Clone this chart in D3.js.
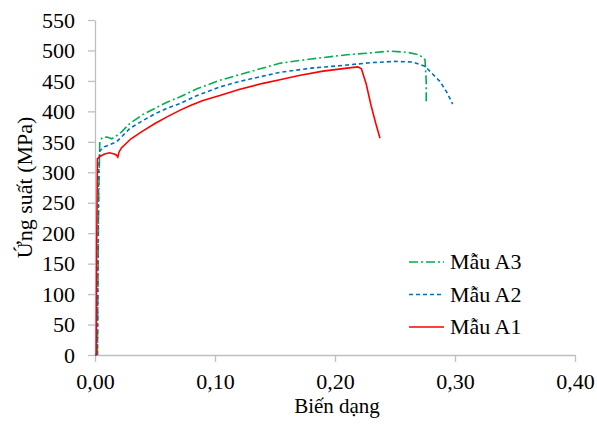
<!DOCTYPE html>
<html>
<head>
<meta charset="utf-8">
<script src="https://cdn.jsdelivr.net/npm/d3@7"></script>
<style>
  body { margin: 0; background: #fff; }
  svg, svg text { font-family: "Liberation Serif", "Times New Roman", serif; fill: #000; }
</style>
</head>
<body>
<div id="chart"></div>
<script>
// strain / stress points
const seriesA1 = [[0,0],[0.001,0],[0.0015,200],[0.002,322],[0.004,326],[0.008,330],[0.012,332],[0.016,330],[0.018,328],[0.019,325],[0.02,333],[0.022,340],[0.03,355],[0.04,368],[0.05,380],[0.06,391],[0.071,402],[0.08,410],[0.09,418],[0.104,426],[0.12,436],[0.14,446],[0.154,452],[0.17,459],[0.19,466],[0.21,471],[0.219,473],[0.222,470],[0.226,445],[0.23,410],[0.234,380],[0.2375,356]];
const seriesA2 = [[0.002,0],[0.003,300],[0.004,335],[0.008,342],[0.012,345],[0.018,350],[0.022,358],[0.029,372],[0.04,385],[0.05,396],[0.06,405],[0.071,413],[0.085,426],[0.104,440],[0.12,449],[0.154,464],[0.18,471],[0.21,476],[0.23,480],[0.25,482],[0.265,481],[0.275,474],[0.2875,449],[0.293,432],[0.298,412]];
const seriesA3 = [[0.002,0],[0.003,250],[0.004,350],[0.006,357],[0.01,358],[0.014,355],[0.018,360],[0.022,366],[0.029,380],[0.04,395],[0.05,405],[0.06,415],[0.071,424],[0.085,437],[0.104,451],[0.12,460],[0.154,479],[0.18,486],[0.21,493],[0.23,496],[0.246,499],[0.26,497],[0.27,493],[0.275,485],[0.276,450],[0.276,416]];
const seriesNames = ["Mẫu A3", "Mẫu A2", "Mẫu A1"];
const xTicks = [0, 0.1, 0.2, 0.3, 0.4];
const yTicks = [0,50,100,150,200,250,300,350,400,450,500,550];

const width = 597, height = 424;
const margin = {left: 95, right: 22, top: 20, bottom: 69};
const fontSize = "22px";

const svg = d3.select("#chart").append("svg")
    .attr("width", width)
    .attr("height", height);

const x = d3.scaleLinear().domain([0, 0.4]).range([margin.left, width - margin.right]);
const y = d3.scaleLinear().domain([0, 550]).range([height - margin.bottom, margin.top]);

// axes
const xAxis = svg.append("g")
    .attr("transform", `translate(0,${y(0)})`)
    .call(d3.axisBottom(x).tickValues(xTicks).tickSize(7).tickSizeOuter(0)
        .tickFormat(d => d3.format(".2f")(d).replace(".", ",")));
const yAxis = svg.append("g")
    .attr("transform", `translate(${x(0)},0)`)
    .call(d3.axisLeft(y).tickValues(yTicks).tickSize(7).tickSizeOuter(0));

[xAxis, yAxis].forEach(g => {
    g.attr("font-family", "Liberation Serif").attr("font-size", fontSize);
    g.selectAll("path, line").attr("stroke", "#bfbfbf").attr("stroke-width", 1.3);
    g.selectAll("text").attr("fill", "#000");
});
xAxis.selectAll("text").attr("y", 34).attr("dy", 0);
yAxis.selectAll("text").attr("x", -20).attr("dy", "0.33em");

// curves
const styles = [
    {data: seriesA3, color: "#00b050", dash: "9,3,2,3"},
    {data: seriesA2, color: "#0070c0", dash: "4,3"},
    {data: seriesA1, color: "#ff0000", dash: null}
];
const line = d3.line().x(d => x(d[0])).y(d => y(d[1]));

styles.forEach(s => {
    svg.append("path")
        .attr("d", line(s.data))
        .attr("fill", "none")
        .attr("stroke", s.color)
        .attr("stroke-width", 1.6)
        .attr("stroke-dasharray", s.dash);
});

// legend
const legend = svg.append("g");
styles.forEach((s, i) => {
    const ly = 262 + i * 32.5;
    legend.append("line")
        .attr("x1", 409).attr("x2", 444)
        .attr("y1", ly).attr("y2", ly)
        .attr("stroke", s.color)
        .attr("stroke-width", 1.6)
        .attr("stroke-dasharray", s.dash);
    legend.append("text")
        .attr("x", 450).attr("y", ly)
        .attr("dy", "0.33em")
        .style("font-size", fontSize)
        .text(seriesNames[i]);
});

// axis titles
svg.append("text")
    .attr("x", (x(0) + x(0.4)) / 2 + 2)
    .attr("y", 413)
    .attr("text-anchor", "middle")
    .style("font-size", "21px")
    .text("Biến dạng");
svg.append("text")
    .attr("transform", `translate(32,${(y(0) + y(550)) / 2}) rotate(-90)`)
    .attr("text-anchor", "middle")
    .style("font-size", fontSize)
    .text("Ứng suất (MPa)");
</script>
</body>
</html>
